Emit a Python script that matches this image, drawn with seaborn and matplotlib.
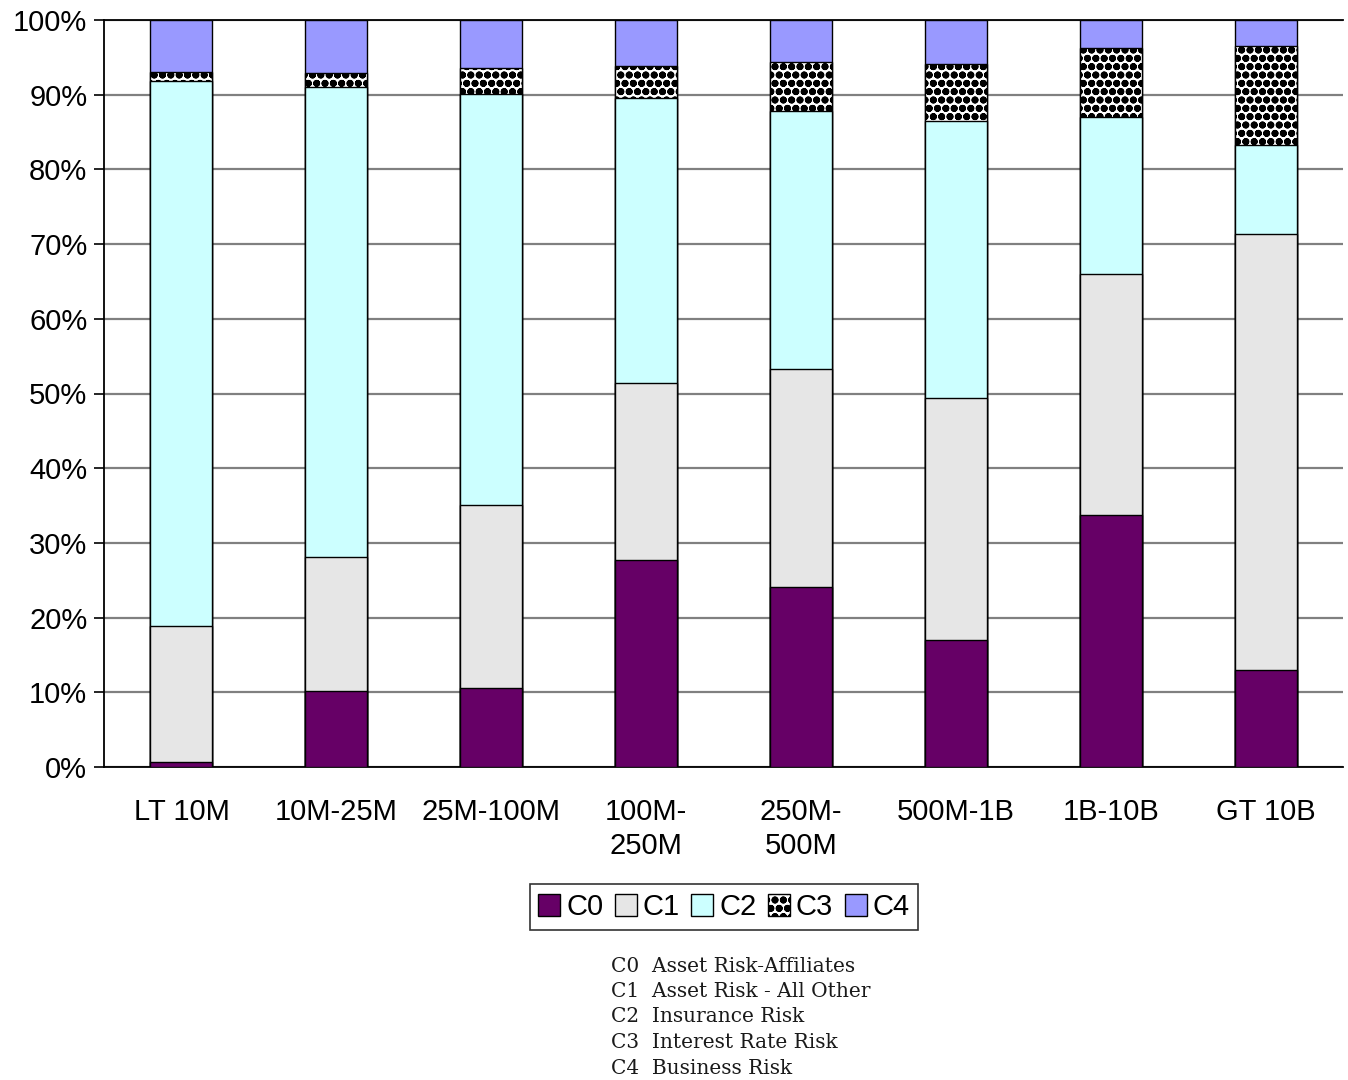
import matplotlib
matplotlib.use("Agg")
import matplotlib.pyplot as plt
import matplotlib.patches as mpatches
import numpy as np
import pandas as pd
import seaborn as sns

categories = ["LT 10M", "10M-25M", "25M-100M", "100M-\n250M", "250M-\n500M",
              "500M-1B", "1B-10B", "GT 10B"]
c0 = [0.7, 10.2, 10.6, 27.7, 24.1, 17.0, 33.7, 13.0]
c1 = [18.2, 17.9, 24.5, 23.7, 29.2, 32.4, 32.3, 58.4]
c2 = [72.9, 62.9, 55.0, 38.2, 34.5, 37.1, 21.0, 11.9]
c3 = [1.2, 1.9, 3.5, 4.2, 6.6, 7.6, 9.3, 13.2]
c4 = [7.0, 7.1, 6.4, 6.2, 5.6, 5.9, 3.7, 3.5]

series_names = ["C0", "C1", "C2", "C3", "C4"]
descriptions = ["C0  Asset Risk-Affiliates", "C1  Asset Risk - All Other",
                "C2  Insurance Risk", "C3  Interest Rate Risk", "C4  Business Risk"]

colors = {"C0": "#660066", "C1": "#e6e6e6", "C2": "#ccffff", "C3": "#ffffff", "C4": "#9999ff"}
hatches = {"C0": None, "C1": None, "C2": None, "C3": "oo", "C4": None}

df = pd.DataFrame({"category": categories, "C0": c0, "C1": c1, "C2": c2, "C3": c3, "C4": c4})
cum = df[series_names].cumsum(axis=1)
cum = cum.div(cum["C4"], axis=0) * 100

sns.set_style("white")
plt.rcParams["font.family"] = ["Liberation Sans", "DejaVu Sans"]
plt.rcParams["hatch.linewidth"] = 2.6
plt.rcParams["hatch.color"] = "black"
plt.rcParams["text.color"] = "black"
plt.rcParams["xtick.color"] = "black"
plt.rcParams["ytick.color"] = "black"

fig = plt.figure(figsize=(13.48, 10.8), dpi=100)
ax = fig.add_axes([104 / 1348, 1 - 767 / 1080, (1343 - 104) / 1348, (767 - 20) / 1080])

# stacked bars: draw cumulative totals from the top series down
for name in reversed(series_names):
    plot_df = pd.DataFrame({"category": categories, "value": cum[name].values})
    sns.barplot(data=plot_df, x="category", y="value", ax=ax, color=colors[name],
                width=0.4, edgecolor="black", linewidth=1.0, saturation=1,
                hatch=hatches[name], zorder=3, errorbar=None)

ax.set_ylim(0, 100)
ax.set_xlim(-0.5, len(categories) - 0.5)
ax.set_yticks(np.arange(0, 101, 10))
ax.set_yticklabels([f"{v}%" for v in range(0, 101, 10)], fontsize=21)
ax.yaxis.grid(True, color="#808080", linewidth=1.6, zorder=0)
ax.set_axisbelow(True)
ax.set_xlabel("")
ax.set_ylabel("")

ax.set_xticks(range(len(categories)))
ax.set_xticklabels(categories, fontsize=21, linespacing=1.3)
ax.set_xticks(np.arange(-0.5, len(categories), 1), minor=True)
ax.tick_params(axis="x", which="major", length=0, pad=22, labelcolor="black")
ax.tick_params(axis="x", which="minor", length=8, width=1.2, color="#404040", direction="out")
ax.tick_params(axis="y", which="major", length=7, width=1.2, color="black", direction="out",
               pad=5, left=True, labelcolor="black")

for side in ["left", "bottom", "top"]:
    ax.spines[side].set_visible(True)
    ax.spines[side].set_color("black")
    ax.spines[side].set_linewidth(1.3)
ax.spines["right"].set_visible(False)

handles = [mpatches.Patch(facecolor=colors[n], edgecolor="black", hatch=hatches[n], label=n)
           for n in series_names]
leg = fig.legend(handles=handles, loc="center", bbox_to_anchor=(724 / 1348, 1 - 907 / 1080),
                 ncol=5, fontsize=21, frameon=True, fancybox=False, handlelength=0.75,
                 handleheight=0.75, handletextpad=0.2, columnspacing=0.4,
                 borderpad=0.3, borderaxespad=0)
leg.get_frame().set_edgecolor("black")
leg.get_frame().set_linewidth(1.2)
for t in leg.get_texts():
    t.set_color("black")

for i, line in enumerate(descriptions):
    fig.text(611 / 1348, 1 - (966 + 25.5 * i) / 1080, line, fontsize=14.5,
             family=["DejaVu Serif"], va="center", ha="left", color="#1a1a1a")

fig.savefig("out.png", dpi=100)
